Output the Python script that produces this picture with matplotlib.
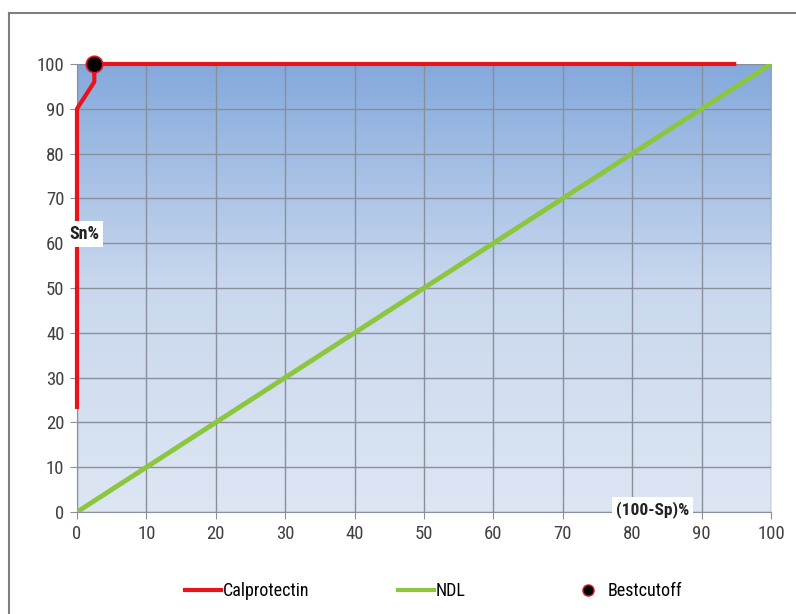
import matplotlib
matplotlib.use("Agg")
import matplotlib.pyplot as plt
import numpy as np
from matplotlib.lines import Line2D
from matplotlib.colors import LinearSegmentedColormap

plt.rcParams['font.family'] = ['Roboto Condensed', 'Open Sans Condensed', 'Liberation Sans Narrow', 'Liberation Sans', 'DejaVu Sans']

# Data
calpro_x = [0, 0, 2.5, 2.5, 95]
calpro_y = [23, 90, 96, 100, 100]
ndl_x = [0, 100]
ndl_y = [0, 100]
best_x = [2.5]
best_y = [100]
xticks = list(range(0, 101, 10))
yticks = list(range(0, 101, 10))

fig = plt.figure(figsize=(7.96, 6.14), dpi=100)
ax = fig.add_axes([0.0967, 0.1661, 0.8719, 0.7297])

cmap = LinearSegmentedColormap.from_list('bg', ['#dde6f3', '#c9d8ee', '#84a9dc'])
grad = np.linspace(0, 1, 256).reshape(-1, 1)
ax.imshow(grad, extent=[0, 100, 0, 100], origin='lower', cmap=cmap, aspect='auto', zorder=0)

ax.set_xlim(0, 100)
ax.set_ylim(0, 100)
ax.set_xticks(xticks)
ax.set_yticks(yticks)
ax.grid(True, color='#8a8f9c', linewidth=1.0, zorder=1)
for s in ['top', 'right']:
    ax.spines[s].set_visible(False)
ax.spines['left'].set_color('#8a8f9c')
ax.spines['bottom'].set_color('#8a8f9c')
ax.tick_params(axis='both', colors='#8a8f9c', labelcolor='#404040', labelsize=13.5, length=5, pad=4)

ax.plot(ndl_x, ndl_y, color='#8cc63f', linewidth=3.5, zorder=3, solid_capstyle='butt')
ax.plot(calpro_x, calpro_y, color='#e8141c', linewidth=3, zorder=4, solid_capstyle='butt', clip_on=False)
ax.scatter(best_x, best_y, s=140, color='black', edgecolor='#e8141c', linewidth=1.2, zorder=5, clip_on=False)

ax.text(1.0, 62, 'Sn%', fontsize=13, fontweight='bold', color='#222222', ha='center', va='center',
        bbox=dict(facecolor='white', edgecolor='none', pad=3), zorder=6)
ax.text(82.9, 0.6, '(100-Sp)%', fontsize=12.5, fontweight='bold', color='#222222', ha='center', va='center',
        bbox=dict(facecolor='white', edgecolor='none', pad=3), zorder=6)

entries = [
    (Line2D([], [], color='#e8141c', linewidth=3), 'Calprotectin', 185),
    (Line2D([], [], color='#8cc63f', linewidth=3), 'NDL', 398),
    (Line2D([], [], color='black', marker='o', linestyle='none', markersize=8,
            markeredgecolor='#e8141c'), 'Bestcutoff', 570),
]
for h, lab, xp in entries:
    fig.legend([h], [lab], loc='center left', bbox_to_anchor=(xp/796, 1-591/614),
               frameon=False, fontsize=13, handlelength=2.0, handletextpad=0.1,
               borderpad=0, borderaxespad=0)

# Outer frame (left and top edges visible)
fig.add_artist(Line2D([9/796, 9/796], [0, 1-13/614], color='#7f7f7f', linewidth=1.5, transform=fig.transFigure))
fig.add_artist(Line2D([9/796, 1], [1-13/614, 1-13/614], color='#7f7f7f', linewidth=1.5, transform=fig.transFigure))

fig.savefig('out.png', dpi=100)
